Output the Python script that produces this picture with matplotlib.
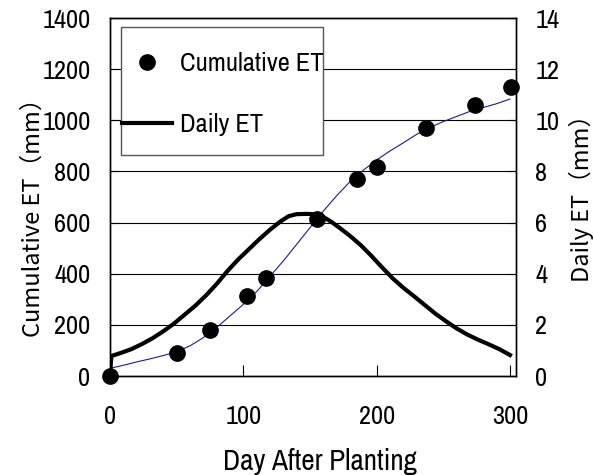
import matplotlib
matplotlib.use("Agg")
import matplotlib.pyplot as plt
from matplotlib.lines import Line2D
from matplotlib.patches import Rectangle

# ---- data ----
obs_day = [0, 50, 75, 103, 117, 155, 185, 200, 237, 274, 301]
obs_cum = [0, 91, 180, 314, 385, 614, 769, 816, 971, 1060, 1130]

model_day = [0, 10, 20, 30, 40, 50, 60, 70, 80, 90, 100, 110, 120, 130, 140,
             150, 160, 170, 180, 190, 200, 210, 220, 230, 240, 250, 260, 270,
             280, 290, 300]
model_cum = [30, 42, 55, 67, 80, 95, 118, 150, 190, 235, 280, 330, 390, 450,
             515, 580, 645, 705, 760, 805, 845, 880, 912, 945, 972, 995, 1015,
             1035, 1050, 1065, 1083]

daily_day = [0, 1, 8, 16, 24, 32, 40, 48, 56, 64, 72, 80, 88, 96, 104, 112,
             120, 128, 134, 140, 148, 155, 160, 166, 172, 180, 188, 196, 204,
             212, 220, 228, 236, 244, 252, 260, 268, 276, 284, 292, 300]
daily_et = [0.0, 0.78, 0.9, 1.05, 1.25, 1.48, 1.75, 2.05, 2.4, 2.75, 3.15,
            3.6, 4.1, 4.55, 4.95, 5.35, 5.72, 6.05, 6.25, 6.33, 6.34, 6.32,
            6.22, 6.03, 5.8, 5.48, 5.12, 4.7, 4.25, 3.82, 3.45, 3.12, 2.78,
            2.44, 2.14, 1.86, 1.62, 1.42, 1.24, 1.05, 0.82]

x_ticks = [0, 100, 200, 300]
yl_ticks = [0, 200, 400, 600, 800, 1000, 1200, 1400]
yr_ticks = [0, 2, 4, 6, 8, 10, 12, 14]

NARROW = ["Archivo Narrow", "Noto Sans CJK JP", "DejaVu Sans"]
CJK = ["Noto Sans CJK JP", "DejaVu Sans"]
plt.rcParams["font.family"] = NARROW

fig = plt.figure(figsize=(5.94, 4.75), dpi=100)
ax = fig.add_axes([110 / 594, 1 - 376 / 475, 406 / 594, 358 / 475])
ax2 = ax.twinx()

ax.set_xlim(0, 304.5)
ax.set_ylim(0, 1400)
ax2.set_ylim(0, 14)

for y in yl_ticks[1:-1]:
    ax.axhline(y, color="black", lw=0.8, zorder=0)

ax.plot(model_day, model_cum, color="#1c1c96", lw=0.8, zorder=2)
ax.plot(obs_day, obs_cum, "o", color="black", ms=11, clip_on=False, zorder=5)
ax2.plot(daily_day, daily_et, color="black", lw=3, zorder=3,
         solid_joinstyle="round")

ax.set_xticks(x_ticks)
ax.set_yticks(yl_ticks)
ax2.set_yticks(yr_ticks)
ax.tick_params(axis="x", direction="in", length=8, pad=21, labelsize=19)
ax.tick_params(axis="y", direction="in", length=6, pad=14, labelsize=19)
ax2.tick_params(axis="y", direction="in", length=6, pad=14, labelsize=19)
for a in (ax, ax2):
    for s in a.spines.values():
        s.set_linewidth(1.0)

ax.set_xlabel("Day After Planting", fontsize=21)
ax.xaxis.set_label_coords(0.517, -0.2)
ax.set_ylabel("Cumulative ET（mm）", fontsize=17, family=CJK)
ax.yaxis.set_label_coords(-0.16, 0.458)
ax2.set_ylabel("Daily ET（mm）", fontsize=17, family=CJK)
ax2.yaxis.set_label_coords(1.13, 0.514)

# legend frame + entries
rect = Rectangle((0.026, 0.617), 0.498, 0.358, transform=ax2.transAxes,
                 facecolor="white", edgecolor="#555555", lw=1.0, zorder=10)
ax2.add_patch(rect)
h1 = Line2D([], [], marker="o", ls="none", color="black", ms=11)
h2 = Line2D([], [], color="black", lw=3)
leg = ax2.legend([h1, h2], ["Cumulative ET", "Daily ET"], loc="upper left",
                 bbox_to_anchor=(0.03, 0.905), frameon=False, fontsize=19,
                 handlelength=1.9, handletextpad=0.3, labelspacing=1.45,
                 borderpad=0.0, borderaxespad=0.0)
leg.set_zorder(11)

fig.savefig("out.png", dpi=100)
